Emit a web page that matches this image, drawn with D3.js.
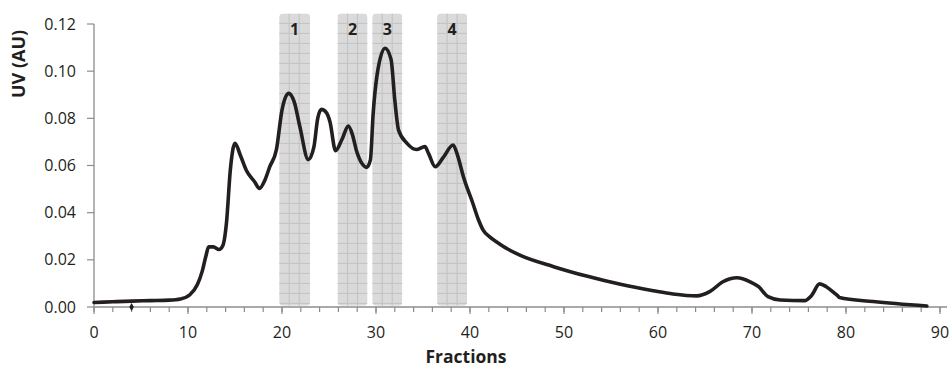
<!DOCTYPE html>
<html><head><meta charset="utf-8">
<script src="https://cdn.jsdelivr.net/npm/d3@7"></script>
<style>
html,body{margin:0;padding:0;background:#fff;}
svg{display:block;font-family:"Open Sans","Liberation Sans",sans-serif;}
</style></head>
<body><svg id="chart" width="951" height="368"></svg>
<script>
const fractions = [0,2,4,6,8,9.2,10.2,11.0,11.5,11.9,12.2,12.7,13.3,13.7,14.1,14.5,15.0,15.6,16.2,17.1,17.6,18.2,18.7,19.4,20.0,20.7,21.3,21.9,22.8,23.4,23.8,24.2,24.7,25.1,25.7,26.35,27.06,27.5,27.9,28.5,29.0,29.4,29.7,30.1,30.96,31.6,32.0,32.4,33.3,34.3,35.2,35.6,36.3,37.2,38.2,38.7,39.3,40.3,40.9,41.4,42.1,42.8,44.0,45.3,48.9,52.4,56.0,59.5,61.6,64.1,65.5,66.9,68.4,69.8,70.7,71.7,73.0,75.6,76.3,77.2,77.9,78.8,79.1,79.3,82.9,88.6];
const uv = [0.0019,0.0022,0.0025,0.0027,0.0029,0.0034,0.0052,0.0095,0.015,0.0215,0.0255,0.0255,0.0244,0.026,0.036,0.058,0.0694,0.064,0.058,0.053,0.0503,0.054,0.0595,0.0666,0.0835,0.0906,0.087,0.0765,0.0625,0.068,0.080,0.0838,0.0825,0.0786,0.0663,0.0708,0.0767,0.073,0.0666,0.0609,0.0592,0.0623,0.0821,0.098,0.1097,0.105,0.0877,0.075,0.0694,0.0668,0.068,0.065,0.0595,0.0637,0.0687,0.064,0.0552,0.0440,0.0370,0.0326,0.0297,0.0277,0.0246,0.022,0.0171,0.0131,0.0096,0.0069,0.0055,0.0047,0.0065,0.0107,0.0124,0.0107,0.0086,0.0044,0.003,0.0027,0.0047,0.0098,0.0086,0.0058,0.0048,0.0040,0.0023,0.0004];
const regionLabels = ["1","2","3","4"];
const regionStart = [19.7,25.9,29.6,36.5];
const regionEnd = [23.0,29.1,32.8,39.7];
const regionTop = 0.1245;
const regionBottom = 0.0005;
const xTicks = [0,10,20,30,40,50,60,70,80,90];
const xMinorTicks = d3.range(0,91,2);
const yTicks = [0,0.02,0.04,0.06,0.08,0.10,0.12];
const markerX = [4];
const markerY = [0];

const svg = d3.select("#chart");
const x = d3.scaleLinear().domain([0,90]).range([94,940]);
const y = d3.scaleLinear().domain([0,0.12]).range([307,24]);
const axisCol = "#8c8c8c", textCol = "#231f20";

// shaded regions
const defs = svg.append("defs");
const gReg = svg.append("g");
regionLabels.forEach((lab,i)=>{
  const x0 = x(regionStart[i]), x1 = x(regionEnd[i]);
  const y0 = y(regionTop), y1 = y(regionBottom);
  const id = "clip"+i;
  defs.append("clipPath").attr("id",id).append("rect")
    .attr("x",x0).attr("y",y0).attr("width",x1-x0).attr("height",y1-y0).attr("rx",4);
  const g = gReg.append("g").attr("clip-path",`url(#${id})`);
  g.append("rect").attr("x",x0).attr("y",y0).attr("width",x1-x0).attr("height",y1-y0).attr("fill","#dadada");
  d3.range(x0+10, x1-2, 10).forEach(v=>g.append("line").attr("x1",v).attr("x2",v).attr("y1",y0).attr("y2",y1).attr("stroke","#c2c2c2").attr("stroke-width",1));
  d3.range(y0+10, y1, 10).forEach(v=>g.append("line").attr("x1",x0).attr("x2",x1).attr("y1",v).attr("y2",v).attr("stroke","#c2c2c2").attr("stroke-width",1));
  gReg.append("text").attr("x",(x0+x1)/2).attr("y",y(0.1175)).attr("dy","0.35em")
    .attr("text-anchor","middle").attr("font-weight","bold").attr("font-size",16).attr("fill",textCol).text(lab);
});

// axes
const gx = svg.append("g").attr("transform","translate(0,307)");
gx.append("line").attr("x1",94).attr("x2",947).attr("stroke",axisCol).attr("stroke-width",1.3);
gx.selectAll(".mn").data(xMinorTicks).join("line").attr("x1",d=>x(d)).attr("x2",d=>x(d)).attr("y1",0).attr("y2",5).attr("stroke",axisCol).attr("stroke-width",1.2);
gx.selectAll(".mj").data(xTicks).join("line").attr("x1",d=>x(d)).attr("x2",d=>x(d)).attr("y1",0).attr("y2",7).attr("stroke",axisCol).attr("stroke-width",1.2);
gx.selectAll("text").data(xTicks).join("text").attr("x",d=>x(d)).attr("y",31).attr("text-anchor","middle")
  .attr("font-size",16).attr("fill",textCol).text(d=>d);

const gy = svg.append("g");
gy.append("line").attr("x1",94).attr("x2",94).attr("y1",y(0.12)).attr("y2",y(0)).attr("stroke",axisCol).attr("stroke-width",1.3);
gy.selectAll("line.t").data(yTicks).join("line").attr("class","t").attr("x1",87).attr("x2",94).attr("y1",d=>y(d)).attr("y2",d=>y(d)).attr("stroke",axisCol).attr("stroke-width",1.2);
gy.selectAll("text").data(yTicks).join("text").attr("x",76).attr("y",d=>y(d)).attr("dy","0.35em").attr("text-anchor","end")
  .attr("font-size",16).attr("fill",textCol).text(d=>d3.format(".2f")(d));

// axis titles
svg.append("text").attr("transform","translate(25,64) rotate(-90)").attr("text-anchor","middle")
  .attr("font-weight","bold").attr("font-size",18).attr("fill",textCol).text("UV (AU)");
svg.append("text").attr("x",466).attr("y",363).attr("text-anchor","middle")
  .attr("font-weight","bold").attr("font-size",17.5).attr("fill",textCol).text("Fractions");

// curve
const pts = fractions.map((f,i)=>[f,uv[i]]);
const line = d3.line().x(d=>x(d[0])).y(d=>y(d[1])).curve(d3.curveMonotoneX);
svg.append("path").attr("d",line(pts)).attr("fill","none").attr("stroke",textCol)
  .attr("stroke-width",3.6).attr("stroke-linejoin","round").attr("stroke-linecap","round");

// marker
svg.selectAll(".mk").data(markerX).join("path").attr("class","mk")
  .attr("transform",(d,i)=>`translate(${x(d)},${y(markerY[i])})`)
  .attr("d",d3.symbol(d3.symbolDiamond,18)).attr("fill",textCol);
</script></body></html>
